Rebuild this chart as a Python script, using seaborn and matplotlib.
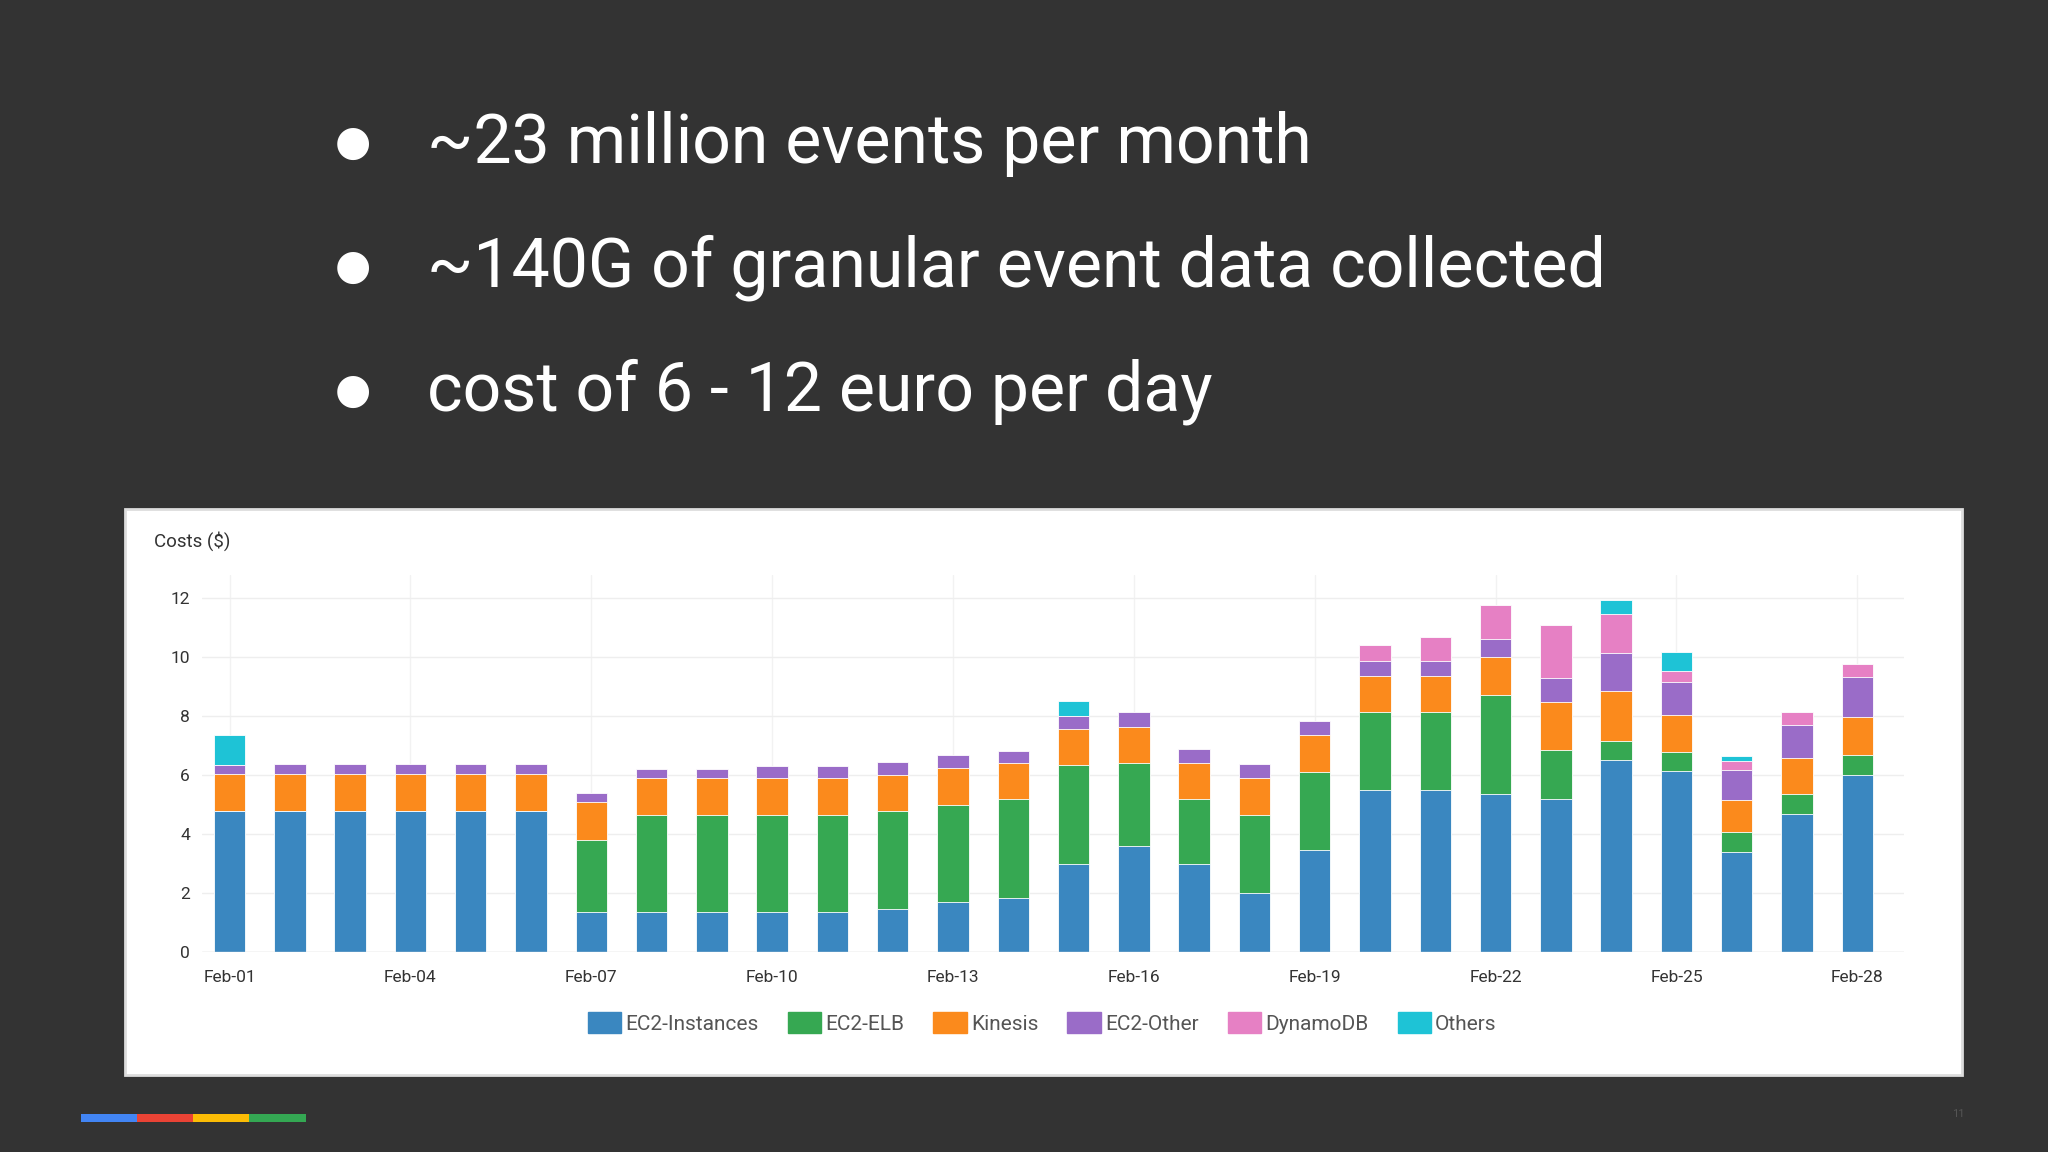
import matplotlib
matplotlib.use("Agg")
import matplotlib.pyplot as plt
import matplotlib.patches as mpatches
import seaborn as sns
import pandas as pd
import numpy as np

sns.set_theme(style="white")
plt.rcParams['font.family'] = ['Roboto', 'DejaVu Sans']

days = [f"Feb-{d:02d}" for d in range(1, 29)]
ec2_instances = [4.8, 4.8, 4.8, 4.8, 4.8, 4.8, 1.35, 1.35, 1.35, 1.35, 1.35, 1.45, 1.7, 1.85,
                 3.0, 3.6, 3.0, 2.0, 3.45, 5.5, 5.5, 5.35, 5.2, 6.5, 6.15, 3.4, 4.7, 6.0]
ec2_elb = [0, 0, 0, 0, 0, 0, 2.45, 3.3, 3.3, 3.3, 3.3, 3.35, 3.3, 3.33,
           3.33, 2.82, 2.18, 2.65, 2.65, 2.64, 2.64, 3.37, 1.66, 0.67, 0.65, 0.67, 0.65, 0.68]
kinesis = [1.25, 1.25, 1.25, 1.25, 1.25, 1.25, 1.3, 1.25, 1.25, 1.25, 1.25, 1.2, 1.24, 1.24,
           1.24, 1.23, 1.24, 1.24, 1.25, 1.24, 1.24, 1.28, 1.64, 1.68, 1.25, 1.1, 1.25, 1.28]
ec2_other = [0.3, 0.32, 0.32, 0.32, 0.32, 0.32, 0.3, 0.3, 0.3, 0.4, 0.4, 0.45, 0.44, 0.4,
             0.45, 0.5, 0.48, 0.48, 0.48, 0.49, 0.49, 0.62, 0.8, 1.28, 1.1, 1.0, 1.1, 1.38]
dynamodb = [0, 0, 0, 0, 0, 0, 0, 0, 0, 0, 0, 0, 0, 0,
            0, 0, 0, 0, 0, 0.53, 0.83, 1.15, 1.8, 1.33, 0.4, 0.3, 0.44, 0.44]
others = [1.0, 0, 0, 0, 0, 0, 0, 0, 0, 0, 0, 0, 0, 0,
          0.5, 0, 0, 0, 0, 0, 0, 0, 0, 0.49, 0.62, 0.18, 0, 0]

series = [("EC2-Instances", ec2_instances, "#3a87c0"),
          ("EC2-ELB", ec2_elb, "#36a852"),
          ("Kinesis", kinesis, "#fb8a1c"),
          ("EC2-Other", ec2_other, "#9a6cc8"),
          ("DynamoDB", dynamodb, "#e680c4"),
          ("Others", others, "#1ec3d6")]

bg = "#333333"
fig = plt.figure(figsize=(20.48, 11.52), dpi=100, facecolor=bg)

# bullet text
bullets = ["~23 million events per month", "~140G of granular event data collected",
           "cost of 6 - 12 euro per day"]
for i, t in enumerate(bullets):
    y = 1 - (110 + 95 * i) / 882
    fig.text(270 / 1568, y, "\u25cf", color="white", fontsize=30, va="center", ha="center")
    fig.text(327 / 1568, y, t, color="white", fontsize=49, va="center", ha="left")

# white chart panel (behind the axes)
fig.patches.append(mpatches.Rectangle((96 / 1568, 1 - 823 / 882), (1502 - 96) / 1568, (823 - 390) / 882,
                                      transform=fig.transFigure, facecolor="white", edgecolor="#dddddd",
                                      lw=2, zorder=-5))

ax = fig.add_axes([155 / 1568, 1 - 729 / 882, (1458 - 155) / 1568, (729 - 440) / 882])
ax.set_zorder(2)
ax.set_facecolor("white")

df = pd.DataFrame({"day": days})
cum = np.zeros(len(days))
cums = []
for name, vals, col in series:
    cum = cum + np.array(vals)
    cums.append((name, cum.copy(), col))
for name, c, col in reversed(cums):
    df["v"] = c
    sns.barplot(data=df, x="day", y="v", color=col, width=0.52, saturation=1, ax=ax, zorder=3,
                edgecolor="white", linewidth=0.6)

ax.set_ylim(0, 12.8)
ax.set_xlim(-0.45, 27.78)
ax.set_yticks([0, 2, 4, 6, 8, 10, 12])
ax.set_xticks(range(0, 28, 3))
ax.set_xticklabels(days[::3])
ax.tick_params(labelsize=12.5, colors="#333333", length=0)
ax.tick_params(axis="x", pad=13)
ax.tick_params(axis="y", pad=9)
ax.set_xlabel("")
ax.set_ylabel("")
ax.grid(axis="y", color="#eeeeee", lw=1, zorder=0)
for x in range(0, 28, 3):
    ax.axvline(x, color="#f2f2f2", lw=1, zorder=0)
for s in ax.spines.values():
    s.set_visible(False)
ax.axhline(0, color="#dddddd", lw=1, zorder=4)

fig.text(118 / 1568, 1 - 414 / 882, "Costs ($)", fontsize=13.5, color="#333333", va="center")

handles = [mpatches.Patch(color=col, label=name) for name, _, col in series]
fig.legend(handles=handles, loc="center", bbox_to_anchor=(798 / 1568, 1 - 783 / 882), ncol=6,
           frameon=False, fontsize=15, handlelength=1.6, handleheight=1.2, handletextpad=0.2,
           columnspacing=1.4, labelcolor="#555555")

# google color strip
strip = ["#4285f4", "#ea4335", "#fbbc05", "#34a853"]
for i, c in enumerate(strip):
    fig.patches.append(mpatches.Rectangle(((62 + 43 * i) / 1568, 1 - 859 / 882), 43 / 1568, 6 / 882,
                                          transform=fig.transFigure, facecolor=c, lw=0))
fig.text(1499 / 1568, 1 - 853 / 882, "11", color="#555555", fontsize=8, ha="center", va="center")

fig.savefig("out.png", dpi=100, facecolor=bg)
